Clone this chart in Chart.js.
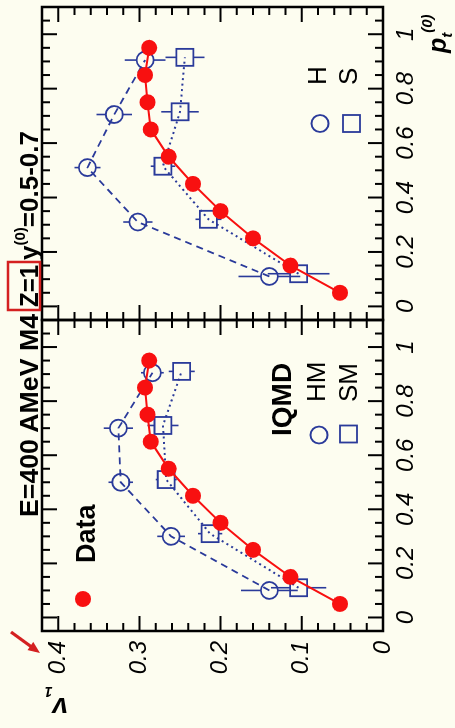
<!DOCTYPE html>
<html><head><meta charset="utf-8">
<script src="https://cdn.jsdelivr.net/npm/chart.js@4.4.1/dist/chart.umd.min.js"></script>
<style>
html,body{margin:0;padding:0;width:455px;height:728px;overflow:hidden;background:#fdfdf0;}
#root{position:absolute;left:0;top:0;width:728px;height:455px;transform-origin:0 0;transform:rotate(-90deg) translateX(-100%);}
canvas{position:absolute;top:0;}
#cL{left:0;}
#cR{left:400px;}
#ov{position:absolute;left:0;top:0;}
</style></head><body>
<div id="root">
<canvas id="cL" width="420" height="455"></canvas>
<canvas id="cR" width="328" height="455"></canvas>
<svg id="ov" width="728" height="455" font-family="Liberation Sans, Arial, Helvetica, sans-serif">
  <!-- title -->
  <text x="211" y="38" font-weight="bold" font-size="26" textLength="203" lengthAdjust="spacingAndGlyphs">E=400 AMeV M4</text>
  <rect x="418" y="8" width="48" height="32" fill="none" stroke="#d42020" stroke-width="2.5"/>
  <text x="421" y="38" font-weight="bold" font-size="26" textLength="42" lengthAdjust="spacingAndGlyphs">Z=1</text>
  <text x="468" y="38" font-weight="bold" font-size="26">y<tspan font-size="15" dy="-13">(0)</tspan><tspan font-size="26" dy="13">=0.5-0.7</tspan></text>
  <!-- red arrow -->
  <line x1="96" y1="11" x2="80" y2="33" stroke="#d42020" stroke-width="3"/>
  <polygon points="75,40 86.1,33.2 77.9,27.4" fill="#d42020"/>
  <!-- axis titles -->
  <text transform="translate(30,68) rotate(-90)" font-weight="bold" font-style="italic" font-size="28">v<tspan font-size="14" dy="11">1</tspan></text>
  <text x="675" y="446" font-weight="bold" font-style="italic" font-size="25">p<tspan font-size="15" dy="6">t</tspan><tspan font-size="15" dy="-20">(0)</tspan></text>
  <!-- legend left panel -->
  <circle cx="129" cy="83" r="8" fill="#f81010"/>
  <text x="165" y="95" font-weight="bold" font-size="27">Data</text>
  <text x="292" y="291" font-weight="bold" font-size="28">IQMD</text>
  <circle cx="293" cy="319" r="8.5" fill="none" stroke="#2a3a9a" stroke-width="1.8"/>
  <text x="326" y="325" font-size="26">HM</text>
  <rect x="285.5" y="340" width="17" height="17" fill="none" stroke="#2a3a9a" stroke-width="1.8"/>
  <text x="326" y="357" font-size="26">SM</text>
  <!-- legend right panel -->
  <circle cx="604.5" cy="320" r="8.5" fill="none" stroke="#2a3a9a" stroke-width="1.8"/>
  <text x="643" y="326" font-size="26">H</text>
  <rect x="596" y="343" width="17" height="17" fill="none" stroke="#2a3a9a" stroke-width="1.8"/>
  <text x="643" y="357" font-size="26">S</text>
</svg>
</div>
<script>
// ---- data ----
const PT_DATA = [0.05, 0.15, 0.25, 0.35, 0.45, 0.55, 0.65, 0.75, 0.85, 0.95];
const V1_DATA = [0.053, 0.114, 0.160, 0.200, 0.234, 0.264, 0.286, 0.290, 0.293, 0.288];

const PT_HM  = [0.10, 0.30, 0.50, 0.70, 0.905];
const V1_HM  = [0.140, 0.261, 0.323, 0.326, 0.284];
const ERR_HM = [0.035, 0.017, 0.015, 0.018, 0.014];

const PT_SM  = [0.11, 0.31, 0.51, 0.71, 0.91];
const V1_SM  = [0.104, 0.213, 0.267, 0.271, 0.248];
const ERR_SM = [0.034, 0.015, 0.013, 0.019, 0.016];

const PT_H  = [0.11, 0.31, 0.51, 0.705, 0.905];
const V1_H  = [0.140, 0.302, 0.364, 0.331, 0.293];
const ERR_H = [0.038, 0.018, 0.016, 0.022, 0.025];

const PT_S  = [0.12, 0.32, 0.515, 0.715, 0.915];
const V1_S  = [0.104, 0.215, 0.271, 0.250, 0.244];
const ERR_S = [0.038, 0.016, 0.015, 0.023, 0.024];

const PT_TICKS  = [0, 0.2, 0.4, 0.6, 0.8, 1.0];
const PT_LABELS = ['0', '0.2', '0.4', '0.6', '0.8', '1'];
const V1_TICKS  = [0, 0.1, 0.2, 0.3, 0.4];
const V1_LABELS = ['0', '0.1', '0.2', '0.3', '0.4'];
const PT_MIN = -0.05, PT_MAX = 1.1, V1_MIN = 0, V1_MAX = 0.42;

// ---- styles ----
const RED = '#f81010', BLUE = '#2a3a9a';
const TICK_FONT = {family: 'Liberation Sans, Arial, sans-serif', size: 24, style: 'italic'};

function steps(a, b, s) { const out = []; for (let k = Math.round(a / s); k * s <= b + 1e-9; k++) out.push(+(k * s).toFixed(4)); return out; }
const V1_MINOR = steps(V1_MIN, V1_MAX, 0.02);
const PT_MINOR = steps(PT_MIN, PT_MAX, 0.05);
const isMult = (v, s) => Math.abs(v / s - Math.round(v / s)) < 1e-6;

const framePlugin = {
  id: 'frameTicks',
  afterDraw(chart) {
    const {ctx, chartArea: a, scales: {x, y}} = chart;
    ctx.save();
    ctx.strokeStyle = '#000';
    ctx.lineWidth = 2;
    ctx.beginPath();
    V1_MINOR.forEach(v => {
      const py = y.getPixelForValue(v);
      const L = isMult(v, 0.1) ? 15 : 8;
      ctx.moveTo(a.left, py); ctx.lineTo(a.left + L, py);
      ctx.moveTo(a.right, py); ctx.lineTo(a.right - L, py);
    });
    PT_MINOR.forEach(v => {
      const px = x.getPixelForValue(v);
      const L = isMult(v, 0.2) ? 15 : 8;
      ctx.moveTo(px, a.bottom); ctx.lineTo(px, a.bottom - L);
      ctx.moveTo(px, a.top); ctx.lineTo(px, a.top + L);
    });
    ctx.stroke();
    ctx.lineWidth = 2.5;
    ctx.strokeRect(a.left, a.top, a.right - a.left, a.bottom - a.top);
    ctx.restore();
  }
};

const errPlugin = {
  id: 'errbars',
  beforeDatasetsDraw(chart) {
    const {ctx, scales: {y}} = chart;
    chart.data.datasets.forEach((ds, di) => {
      if (!ds.errV) return;
      const meta = chart.getDatasetMeta(di);
      ctx.save();
      ctx.strokeStyle = BLUE; ctx.lineWidth = 1.6; ctx.setLineDash([]);
      ctx.beginPath();
      meta.data.forEach((p, i) => {
        const v = ds.data[i].y, e = ds.errV[i];
        const yT = y.getPixelForValue(v + e), yB = y.getPixelForValue(v - e);
        ctx.moveTo(p.x, yT); ctx.lineTo(p.x, p.y - ds.gap);
        ctx.moveTo(p.x, p.y + ds.gap); ctx.lineTo(p.x, yB);
      });
      ctx.stroke();
      ctx.restore();
    });
  }
};

const pts = (px, py) => px.map((p, i) => ({x: p, y: py[i]}));

function dataSet() {
  return {data: pts(PT_DATA, V1_DATA), showLine: true, borderColor: RED, borderWidth: 2,
    pointRadius: 8, pointStyle: 'circle', pointBackgroundColor: RED, pointBorderColor: RED, pointBorderWidth: 0};
}
function circSet(px, py, err) {
  return {data: pts(px, py), errV: err, gap: 8.5, showLine: true, borderColor: BLUE, borderWidth: 1.8,
    borderDash: [7, 5], pointRadius: 8.5, pointStyle: 'circle', pointBackgroundColor: 'rgba(0,0,0,0)',
    pointBorderColor: BLUE, pointBorderWidth: 1.8};
}
function sqSet(px, py, err) {
  return {data: pts(px, py), errV: err, gap: 8.5, showLine: true, borderColor: BLUE, borderWidth: 2,
    borderDash: [2, 3.5], pointRadius: 12, pointStyle: 'rect', pointBackgroundColor: 'rgba(0,0,0,0)',
    pointBorderColor: BLUE, pointBorderWidth: 1.8};
}

function makePanel(id, datasets, showY, padding) {
  return new Chart(document.getElementById(id), {
    type: 'scatter',
    data: {datasets},
    plugins: [errPlugin, framePlugin],
    options: {
      responsive: false, animation: false, events: [],
      layout: {padding, autoPadding: false},
      plugins: {legend: {display: false}, tooltip: {enabled: false}},
      scales: {
        x: {type: 'linear', min: PT_MIN, max: PT_MAX,
          afterBuildTicks: s => { s.ticks = PT_TICKS.map(v => ({value: v})); },
          afterFit: s => { s.height = 72; },
          grid: {display: false, drawTicks: false}, border: {display: false},
          ticks: {font: TICK_FONT, color: '#000', padding: 9, autoSkip: false, maxRotation: 0, minRotation: 0,
            callback: (v, i) => PT_LABELS[i]}},
        y: {type: 'linear', min: V1_MIN, max: V1_MAX, display: showY,
          afterBuildTicks: s => { s.ticks = V1_TICKS.map(v => ({value: v})); },
          afterFit: s => { s.width = showY ? 97 : 0; },
          grid: {display: false, drawTicks: false}, border: {display: false},
          ticks: {font: TICK_FONT, color: '#000', padding: 10, autoSkip: false,
            callback: (v, i) => V1_LABELS[i]}}
      }
    }
  });
}

makePanel('cL', [dataSet(), circSet(PT_HM, V1_HM, ERR_HM), sqSet(PT_SM, V1_SM, ERR_SM)], true,
  {left: 0, top: 42, right: 12, bottom: 0});
makePanel('cR', [dataSet(), circSet(PT_H, V1_H, ERR_H), sqSet(PT_S, V1_S, ERR_S)], false,
  {left: 8, top: 42, right: 7, bottom: 0});
</script>
</body></html>
